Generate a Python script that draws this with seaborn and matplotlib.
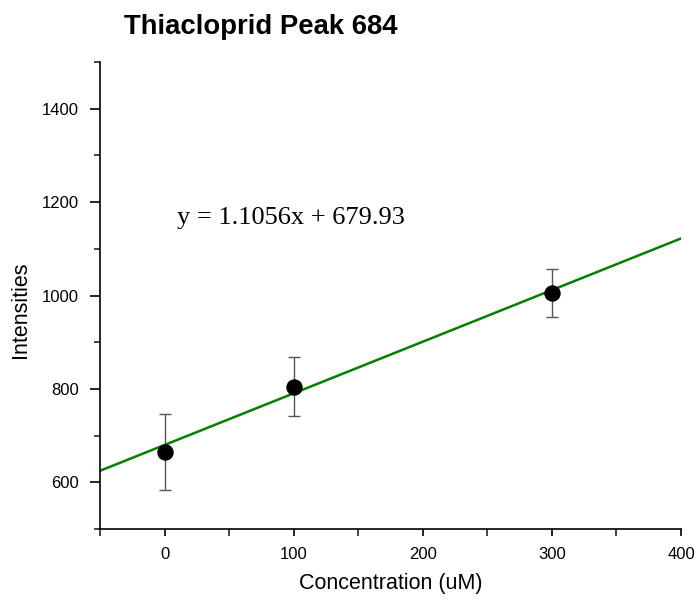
import numpy as np
import pandas as pd
import matplotlib
matplotlib.use("Agg")
import matplotlib.pyplot as plt
import seaborn as sns
from matplotlib.ticker import MultipleLocator

# Data
concentration = [0, 100, 300]
intensity = [665, 805, 1005]
error = [82, 64, 51]
slope = 1.1056
intercept = 679.93
equation_text = "y = 1.1056x + 679.93"
title_text = "Thiacloprid Peak 684"

sns.set_theme(style="ticks")
plt.rcParams['font.family'] = ['Liberation Sans', 'DejaVu Sans']
plt.rcParams['text.color'] = 'black'
plt.rcParams['axes.labelcolor'] = 'black'

fig = plt.figure(figsize=(6.99, 6.01), dpi=100)
ax = fig.add_axes([100/699, 1-529/601, (681-100)/699, (529-62)/601])

df = pd.DataFrame({"Concentration (uM)": concentration, "Intensities": intensity})

# Fit line
xline = np.array([-50, 400])
line_df = pd.DataFrame({"x": xline, "y": slope * xline + intercept})
sns.lineplot(data=line_df, x="x", y="y", ax=ax, color="#008000", linewidth=1.8, zorder=2)

# Error bars
ax.errorbar(concentration, intensity, yerr=error, fmt="none", ecolor="#555555",
            elinewidth=1.0, capsize=4, capthick=1.0, zorder=1)

# Points
sns.scatterplot(data=df, x="Concentration (uM)", y="Intensities", ax=ax,
                color="black", s=140, edgecolor="black", linewidth=0, zorder=3)

ax.set_xlim(-50, 400)
ax.set_ylim(500, 1500)
ax.xaxis.set_major_locator(MultipleLocator(100))
ax.xaxis.set_minor_locator(MultipleLocator(50))
ax.yaxis.set_major_locator(MultipleLocator(200))
ax.yaxis.set_minor_locator(MultipleLocator(100))
ax.set_yticks([600, 800, 1000, 1200, 1400])

ax.tick_params(axis="both", which="major", direction="out", length=5, width=1.2,
               labelsize=12, colors="black", pad=8)
ax.tick_params(axis="y", which="major", length=7)
ax.tick_params(axis="both", which="minor", direction="out", length=4, width=1.2)
ax.tick_params(axis="x", which="minor", length=5)

for side in ["top", "right"]:
    ax.spines[side].set_visible(False)
for side in ["left", "bottom"]:
    ax.spines[side].set_linewidth(1.2)
    ax.spines[side].set_color("black")

ax.set_xlabel("Concentration (uM)", fontsize=15.5, color="black")
ax.set_ylabel("Intensities", fontsize=15.5, color="black")
ax.xaxis.set_label_coords((391-100)/581, -(584-529)/467)
ax.yaxis.set_label_coords(-(100-20)/581, (529-310)/467)
ax.xaxis.label.set_va("center")
ax.yaxis.label.set_va("center")

ax.text(9.3, 1166, equation_text, fontsize=19, family=["Liberation Serif", "DejaVu Serif"],
        va="center", ha="left", color="black")

fig.text(261/699, 1-27/601, title_text, fontsize=19.8, fontweight="bold",
         ha="center", va="center", color="black")

fig.savefig("out.png", dpi=100)
